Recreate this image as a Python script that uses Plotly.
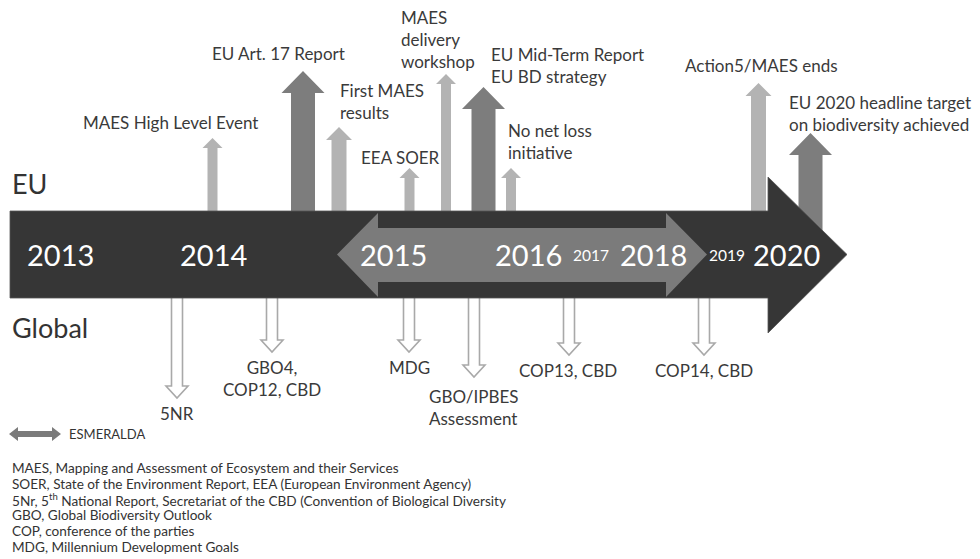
import plotly.graph_objects as go

# ---------------- data ----------------
year_labels = ["2013", "2014", "2015", "2016", "2017", "2018", "2019", "2020"]
year_pos = [60, 213, 393, 528, 591, 653, 727, 786]
year_major = [True, True, True, True, False, True, False, True]

eu_labels = ["MAES High Level Event", "EU Art. 17 Report", "First MAES<br>results", "EEA SOER",
             "MAES<br>delivery<br>workshop", "EU Mid-Term Report<br>EU BD strategy",
             "No net loss<br>initiative", "Action5/MAES ends",
             "EU 2020 headline target<br>on biodiversity achieved"]
eu_pos = [212.5, 303, 339, 409.5, 446, 483.5, 511, 758.5, 810.5]
eu_top = [138, 71, 127, 168, 74, 87, 168, 83, 133]
eu_kind = ["small", "large", "medium", "small", "small", "large", "small", "medium", "large"]

gl_labels = ["5NR", "GBO4,<br>COP12, CBD", "MDG", "GBO/IPBES<br>Assessment", "COP13, CBD", "COP14, CBD"]
gl_pos = [177, 272, 409, 474, 569, 704]
gl_tip = [398, 352, 352, 377, 355, 355]

footnotes = [
    "MAES, Mapping and Assessment of Ecosystem and their Services",
    "SOER, State of the Environment Report, EEA (European Environment Agency)",
    "5Nr, 5<sup>th</sup> National Report, Secretariat of the CBD (Convention of Biological Diversity",
    "GBO, Global Biodiversity Outlook",
    "COP, conference of the parties",
    "MDG, Millennium Development Goals",
]

# ---------------- layout / styles ----------------
FONT = "Lato"
TXT = "#3a3a3a"
BAR_TOP, BAR_BOT, BAR_MID = 211, 298, 254.5
OFF = 8  # page body margin of the html output
styles = {
    "small": dict(sw=5, hw=10, hl=10, color="#b3b3b3"),
    "medium": dict(sw=7.5, hw=13, hl=13, color="#b3b3b3"),
    "large": dict(sw=12, hw=21.5, hl=22, color="#7d7d7d"),
}
# label anchors (x, y, xanchor)
eu_anchor = [(170, 122, "center"), (278, 53, "center"), (338, 101.5, "left"), (400, 157, "center"),
             (399, 39.5, "left"), (489, 65, "left"), (506, 141.5, "left"), (683, 65, "left"),
             (787, 113.5, "left")]
gl_anchor = [(177, 413, "center"), (272, 378, "center"), (409, 367, "center"), (427, 407, "left"),
             (568, 370, "center"), (704, 370, "center")]

shapes = []
annotations = []

def poly(pts):
    return "M " + " L ".join(f"{x},{y}" for x, y in pts) + " Z"

# EU up arrows (drawn first, behind the main arrow)
for x, top, kind in zip(eu_pos, eu_top, eu_kind):
    s = styles[kind]
    base = top + s["hl"]
    pts = [(x - s["sw"], BAR_MID), (x - s["sw"], base), (x - s["hw"], base), (x, top),
           (x + s["hw"], base), (x + s["sw"], base), (x + s["sw"], BAR_MID)]
    shapes.append(dict(type="path", path=poly(pts), xref="x", yref="y",
                       fillcolor=s["color"], line=dict(width=0)))

# Global hollow down arrows
sw, hw, hl = 5.5, 11, 12
for x, tip in zip(gl_pos, gl_tip):
    base = tip - hl
    pts = [(x - sw, 285), (x - sw, base), (x - hw, base), (x, tip),
           (x + hw, base), (x + sw, base), (x + sw, 285)]
    shapes.append(dict(type="path", path=poly(pts), xref="x", yref="y",
                       fillcolor="white", line=dict(width=1.6, color="#a9a9a9")))

# main timeline arrow
main = [(10, BAR_TOP), (768, BAR_TOP), (768, 177), (847, BAR_MID), (768, 333), (768, BAR_BOT), (10, BAR_BOT)]
shapes.append(dict(type="path", path=poly(main), xref="x", yref="y",
                   fillcolor="#363636", line=dict(width=0.8, color="#555555")))

# ESMERALDA double arrow
esm = [(337, BAR_MID), (378, 213), (378, 228), (666, 228), (666, 213), (707, BAR_MID),
       (666, 297), (666, 282), (378, 282), (378, 297)]
shapes.append(dict(type="path", path=poly(esm), xref="x", yref="y",
                   fillcolor="#7b7b7b", line=dict(width=0)))

# legend double arrow
leg = [(9, 434), (18, 427), (18, 431), (52, 431), (52, 427), (61, 434),
       (52, 441), (52, 437), (18, 437), (18, 441)]
shapes.append(dict(type="path", path=poly(leg), xref="x", yref="y",
                   fillcolor="#7b7b7b", line=dict(width=0)))

def text(x, y, t, size, color=TXT, xanchor="center", align="center"):
    annotations.append(dict(x=x, y=y, xref="x", yref="y", text=t, showarrow=False,
                            xanchor=xanchor, yanchor="middle", align=align,
                            font=dict(family=FONT, size=size, color=color)))

for lab, x, major in zip(year_labels, year_pos, year_major):
    text(x, BAR_MID, lab, 29 if major else 15.5, color="white")

for lab, (x, y, xa) in zip(eu_labels, eu_anchor):
    text(x, y, lab, 17, xanchor=xa, align=xa if xa != "center" else "center")
for lab, (x, y, xa) in zip(gl_labels, gl_anchor):
    text(x, y, lab, 17, xanchor=xa, align=xa if xa != "center" else "center")

text(10, 183, "EU", 27, color="#333333", xanchor="left", align="left")
text(10, 327, "Global", 27, color="#333333", xanchor="left", align="left")
text(67, 434, "ESMERALDA", 13, color="#333333", xanchor="left", align="left")

for i, line in enumerate(footnotes):
    text(10, 468 + i * 15.8, line, 13.6, color="#333333", xanchor="left", align="left")

W, H = 980, 559
fig = go.Figure(go.Scatter(x=[OFF, W], y=[OFF, H], mode="markers",
                           marker=dict(opacity=0), hoverinfo="skip", showlegend=False))
fig.update_layout(
    width=W - OFF, height=H - OFF, margin=dict(l=0, r=0, t=0, b=0),
    paper_bgcolor="white", plot_bgcolor="white",
    xaxis=dict(range=[OFF, W], visible=False, fixedrange=True),
    yaxis=dict(range=[H, OFF], visible=False, fixedrange=True),
    shapes=shapes, annotations=annotations, showlegend=False,
)
fig.write_html("out.html")
